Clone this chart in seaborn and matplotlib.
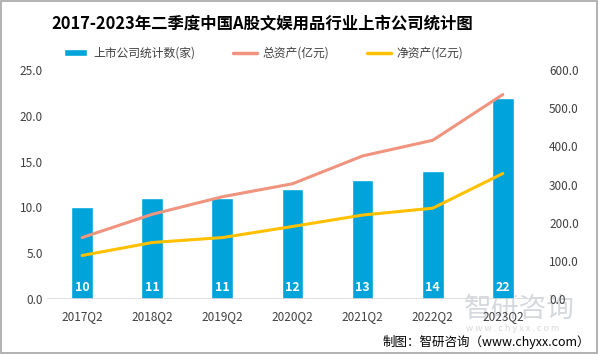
import numpy as np
import pandas as pd
import matplotlib
matplotlib.use('Agg')
import matplotlib.pyplot as plt
import seaborn as sns
from matplotlib.patches import Rectangle, Patch
from matplotlib.lines import Line2D

quarters = ['2017Q2', '2018Q2', '2019Q2', '2020Q2', '2021Q2', '2022Q2', '2023Q2']
companies = [10, 11, 11, 12, 13, 14, 22]
total_assets = [161, 222, 268, 302, 375, 416, 536]
net_assets = [114, 148, 161, 190, 220, 238, 329]

sns.set_style('white')
plt.rcParams['font.family'] = ['Noto Sans CJK SC', 'DejaVu Sans']

df = pd.DataFrame({'quarter': quarters, 'companies': companies,
                   'total': total_assets, 'net': net_assets})

fig = plt.figure(figsize=(5.99, 3.54), dpi=100)

bar_c = '#00A3DA'
tot_c = '#F0937F'
net_c = '#FFC000'
txt_c = '#404040'

# faint watermark, drawn first so the chart sits on top
fig.text(0.775, 0.128, '智研咨询', fontsize=20, color='#D5D9DD',
         ha='left', va='center', zorder=-1)
fig.text(0.778, 0.072, 'w w w . c h y x x . c o m', fontsize=6.5, color='#D5D9DD',
         ha='left', va='center', zorder=-1)

ax = fig.add_axes([0.0785, 0.1554, 0.8195, 0.6466])
sns.barplot(data=df, x='quarter', y='companies', color=bar_c, width=0.31,
            saturation=1, ax=ax)
ax.set_facecolor('none')
ax.set_ylim(0, 25)
ax.set_yticks(np.arange(0, 26, 5))
ax.set_yticklabels([f'{v:.1f}' for v in np.arange(0, 26, 5)])
ax.set_xlabel('')
ax.set_ylabel('')
for s in ax.spines.values():
    s.set_visible(False)
ax.axhline(0, color='#D9D9D9', lw=1.2, zorder=1)
ax.tick_params(axis='both', length=0, labelsize=8.5, colors=txt_c, pad=3)
ax.tick_params(axis='x', pad=8)

for p, v in zip(ax.patches, companies):
    ax.text(p.get_x() + p.get_width() / 2, 1.3, str(v), ha='center',
            va='center', color='white', fontsize=9, fontweight='bold')

ax2 = ax.twinx()
sns.lineplot(data=df, x='quarter', y='total', color=tot_c, lw=2.2, ax=ax2)
sns.lineplot(data=df, x='quarter', y='net', color=net_c, lw=2.2, ax=ax2)
ax2.set_ylim(0, 600)
ax2.set_yticks(np.arange(0, 601, 100))
ax2.set_yticklabels([f'{v:.1f}' for v in np.arange(0, 601, 100)])
ax2.set_ylabel('')
ax2.set_xlabel('')
for s in ax2.spines.values():
    s.set_visible(False)
ax2.tick_params(axis='y', length=0, labelsize=8.5, colors=txt_c, pad=8)
ax.set_xlim(-0.5, 6.5)

fig.text(0.437, 0.935, '2017-2023年二季度中国A股文娱用品行业上市公司统计图',
         ha='center', va='center', fontsize=11.8, fontweight='bold', color='black')

handles = [Patch(facecolor=bar_c), Line2D([], [], color=tot_c, lw=2.5),
           Line2D([], [], color=net_c, lw=2.5)]
labels = ['上市公司统计数(家)', '总资产(亿元)', '净资产(亿元)']
fig.legend(handles, labels, loc='center', bbox_to_anchor=(0.44, 0.85), ncol=3,
           frameon=False, fontsize=8.5, handlelength=2.0, handleheight=0.5,
           columnspacing=3.2, handletextpad=0.5, labelcolor=txt_c)

fig.text(0.985, 0.035, '制图：智研咨询（www.chyxx.com）', fontsize=9,
         ha='right', va='center', color='black')

fig.patches.append(Rectangle((0.002, 0.003), 0.995, 0.994, transform=fig.transFigure,
                             fill=False, edgecolor='#A6A6A6', lw=1.2))

fig.savefig('out.png', dpi=100)
